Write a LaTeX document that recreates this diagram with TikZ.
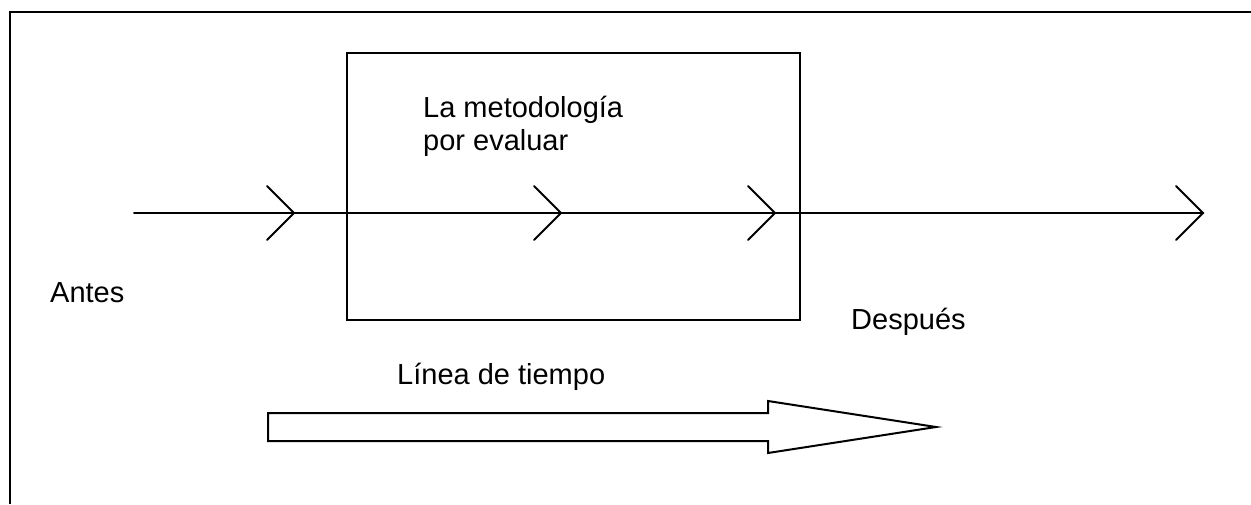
\documentclass[tikz,border=0pt]{standalone}
\usepackage{fontspec}
\setmainfont{Liberation Sans}
\usetikzlibrary{calc}
\tikzset{
  ln/.style={line width=2pt, line cap=round, line join=miter},
  lbl/.style={inner sep=0pt, anchor=base west, font=\fontsize{29}{33}\selectfont, align=left},
  chev/.style={line width=2pt, line cap=round},
}
\begin{document}
\begin{tikzpicture}[x=1pt,y=-1pt]
\useasboundingbox (0,0) rectangle (1251,504);
% partial frame
\coordinate (fr1) at (1251,12);
\coordinate (fr2) at (10,12);
\coordinate (fr3) at (10,504);
\draw[ln, line cap=butt] (fr1) -- (fr2) -- (fr3);
% box
\node[draw, line width=2pt, minimum width=453pt, minimum height=267pt, inner sep=0pt, outer sep=0pt, anchor=north west] (box) at (347,53) {};
% timeline
\coordinate (tlstart) at (134,213);
\coordinate (c1) at (294,213);
\coordinate (c2) at (561,213);
\coordinate (c3) at (775,213);
\coordinate (c4) at (1203,213);
\draw[ln] (tlstart) -- (c4);
\foreach \c in {c1,c2,c3,c4}{
  \draw[chev] ($(\c)+(-27,-27)$) -- (\c) -- ($(\c)+(-27,27)$);
}
% labels
\node[lbl] (metod) at (423,150) {La metodología\\por evaluar};
\node[lbl] (antes) at (50,302) {Antes};
\node[lbl] (despues) at (851,329) {Después};
\node[lbl] (linea) at (397,384) {Línea de tiempo};
% big arrow
\draw[line width=2pt, line join=miter] (268,413) -- (768,413) -- (768,401) -- (936,427) -- (768,453) -- (768,441) -- (268,441) -- cycle;
\end{tikzpicture}
\end{document}
